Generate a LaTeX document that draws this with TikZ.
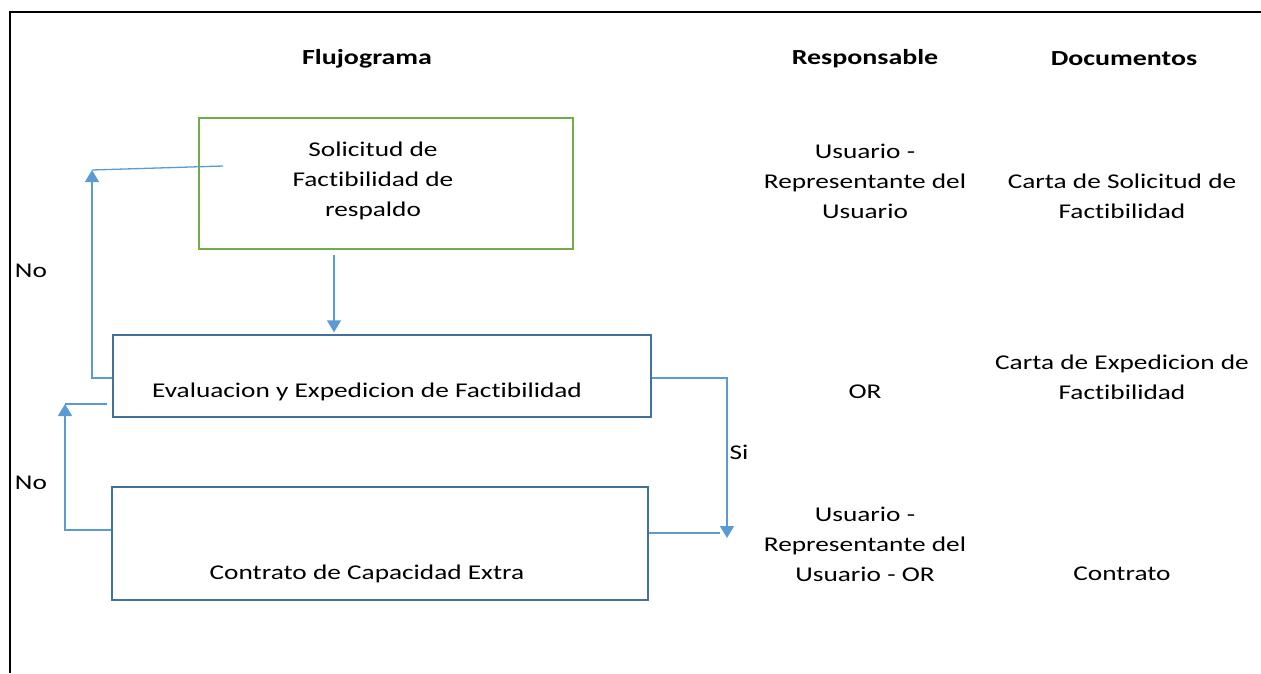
\documentclass[tikz,border=0pt]{standalone}
\usepackage{fontspec}
\setmainfont{Carlito}[FakeStretch=1.3,Ligatures=NoCommon]
\usepackage{tikz}
\usetikzlibrary{calc,arrows.meta}

\definecolor{boxgreen}{HTML}{70AD47}
\definecolor{boxblue}{HTML}{41719C}
\definecolor{flowblue}{HTML}{5B9BD5}

\begin{document}
\begin{tikzpicture}[
	x=1pt,y=-1pt,
	box/.style={draw=boxblue,line width=1.3pt,minimum width=#1,inner sep=0pt},
	flow/.style={draw=flowblue,line width=1.3pt,arrows={-Triangle[length=12pt,width=14pt]}},
	link/.style={draw=flowblue,line width=1.3pt},
	txt/.style={align=center,font=\fontsize{21}{30}\selectfont},
	head/.style={txt,font=\fontsize{21.5}{30}\selectfont\bfseries}]
	\useasboundingbox (0,0) rectangle (1261,673);
	\draw[line width=2.5pt] (10,673) -- (10,12) -- (1261,12);
	% cajas
	\node[box=374pt,draw=boxgreen,minimum height=131pt] (sol) at (386,183.5) {};
	\node[box=538pt,minimum height=82pt] (eval) at (382,376) {};
	\node[box=536pt,minimum height=113pt] (contr) at (380,543.5) {};
	% textos
	\node[head] (hflujo) at (367,59) {Flujograma};
	\node[head] (hresp) at (865,59) {Responsable};
	\node[head] (hdoc) at (1124,59) {Documentos};
	\node[txt] (tsol) at (373,181) {Solicitud de\\Factibilidad de\\respaldo};
	\node[txt] (teval) at (367,392) {Evaluacion y Expedicion de Factibilidad};
	\node[txt] (tcontr) at (367,574) {Contrato de Capacidad Extra};
	\node[txt] (r1) at (865,181) {Usuario -\\Representante del\\Usuario};
	\node[txt] (r2) at (865,392) {OR};
	\node[txt] (r3) at (865,544) {Usuario -\\Representante del\\Usuario - OR};
	\node[txt] (d1) at (1122,196) {Carta de Solicitud de\\Factibilidad};
	\node[txt] (d2) at (1122,377) {Carta de Expedicion de\\Factibilidad};
	\node[txt] (d3) at (1122,574) {Contrato};
	\node[txt] (no1) at (31,271) {No};
	\node[txt] (no2) at (31,483) {No};
	\node[txt] (si) at (739,452) {Si};
	% conectores
	\coordinate (n1a) at (92,378);
	\coordinate (n1b) at (92,170);
	\coordinate (n1c) at (223,166);
	\coordinate (n2a) at (65,530);
	\coordinate (n2b) at (65,404);
	\coordinate (n2c) at (107,404);
	\coordinate (s1) at (727,378);
	\coordinate (s2) at (727,538);
	\coordinate (s3) at (720,533);
	\draw[flow] ($(sol.south)+(-52,5)$) -- ($(eval.north)+(-48,-2)$);
	\draw[flow] (eval.west |- n1a) -- (n1a) -- (n1b);
	\draw[link] (n1b) -- (n1c);
	\draw[flow] (contr.west |- n2a) -- (n2a) -- (n2b);
	\draw[link] (n2b) -- (n2c);
	\draw[flow] (eval.east |- s1) -- (s1) -- (s2);
	\draw[link] (contr.east |- s3) -- (s3);
\end{tikzpicture}
\end{document}
